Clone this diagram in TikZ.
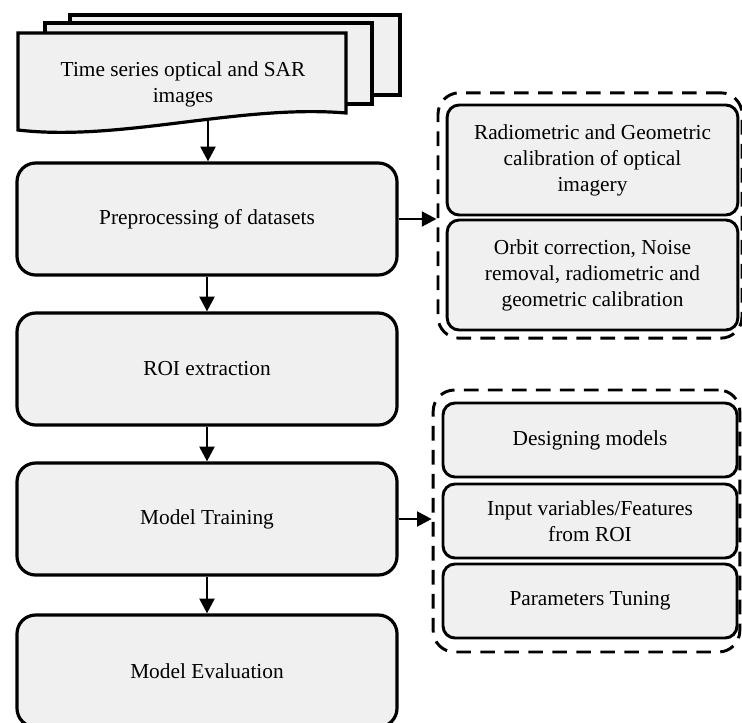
\documentclass[tikz,border=0pt]{standalone}
\usepackage{fontspec}
\setmainfont{Liberation Serif}
\usetikzlibrary{arrows.meta}
\definecolor{boxgray}{HTML}{F0F0F0}
\tikzset{
	stepbox/.style={draw, line width=2.4pt, fill=boxgray, rounded corners=14pt, minimum width=285pt, minimum height=84pt, align=center},
	subbox/.style={draw, line width=2.2pt, fill=boxgray, rounded corners=9pt, align=center},
	groupbox/.style={draw, line width=2.2pt, dash pattern=on 11pt off 7pt, rounded corners=16pt},
	docpage/.style={draw, line width=2.4pt, fill=boxgray},
	flow/.style={-{Triangle[length=11pt,width=11pt]}, line width=2.2pt},
}
\begin{document}
\begin{tikzpicture}[x=0.75pt, y=-0.75pt, font=\fontsize{16}{19.5}\selectfont]
	\useasboundingbox (0,0) rectangle (742,722);
	\clip (0,0) rectangle (742,722);
	% stack of input images
	\path[docpage] (70,15) rectangle (400,95);
	\path[docpage] (45,23) rectangle (372,104);
	\path[docpage] (18,33) -- (346,33) -- (346,113) .. controls (240,104) and (120,142) .. (18,130) -- cycle;
	\path(183,84)    node[align=center](D1) {Time series optical and SAR\\images};
	\coordinate (D1end) at (208,121);
	% main steps
	\path(207,219)   node[stepbox](P1) {Preprocessing of datasets};
	\path(207,369)   node[stepbox](P2) {ROI extraction};
	\path(207,519)   node[stepbox](P3) {Model Training};
	\path(207,671)   node[stepbox](P4) {Model Evaluation};
	% preprocessing details
	\path(590,215.5) node[groupbox, minimum width=228pt, minimum height=184pt](G1) {};
	\path(592.5,160) node[subbox, minimum width=218pt, minimum height=82.5pt](S1) {Radiometric and Geometric\\calibration of optical\\imagery};
	\path(592.5,275) node[subbox, minimum width=218pt, minimum height=82.5pt](S2) {Orbit correction, Noise\\removal, radiometric and\\geometric calibration};
	% training details
	\path(586.5,521) node[groupbox, minimum width=230pt, minimum height=196.5pt](G2) {};
	\path(590,440)   node[subbox, minimum width=220.5pt, minimum height=55.5pt](S3) {Designing models};
	\path(590,521)   node[subbox, minimum width=220.5pt, minimum height=55.5pt](S4) {Input variables/Features\\from ROI};
	\path(590,601)   node[subbox, minimum width=220.5pt, minimum height=55.5pt](S5) {Parameters Tuning};
	% arrows
	\draw[flow] (D1end) -- (D1end |- P1.north);
	\draw[flow] (P1) -- (P2);
	\draw[flow] (P2) -- (P3);
	\draw[flow] (P3) -- (P4);
	\draw[flow] (P1.east) -- (P1.east -| G1.west);
	\draw[flow] (P3.east) -- (P3.east -| G2.west);
\end{tikzpicture}
\end{document}
